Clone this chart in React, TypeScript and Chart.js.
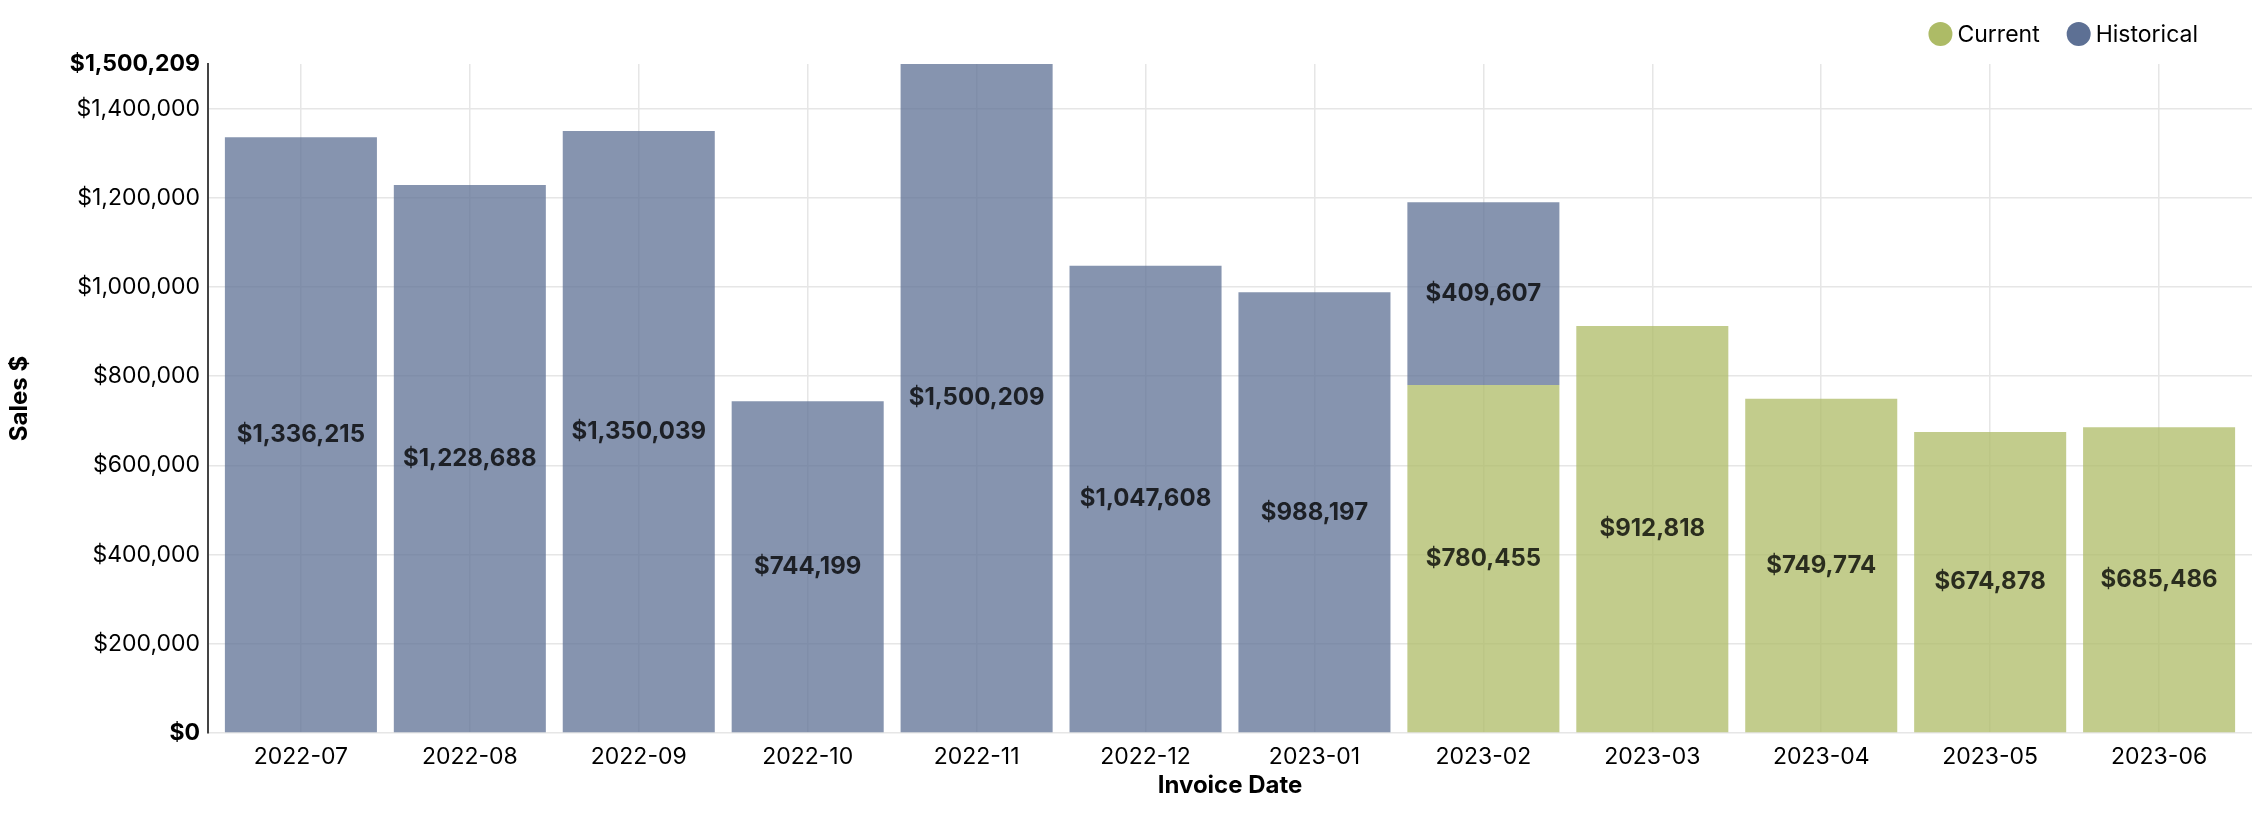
import React, { useEffect, useRef } from 'react';
import { Chart, registerables } from 'chart.js';

Chart.register(...registerables);

const categories = [
  '2022-07', '2022-08', '2022-09', '2022-10', '2022-11', '2022-12',
  '2023-01', '2023-02', '2023-03', '2023-04', '2023-05', '2023-06',
];
const currentSales = [null, null, null, null, null, null, null, 780455, 912818, 749774, 674878, 685486];
const historicalSales = [1336215, 1228688, 1350039, 744199, 1500209, 1047608, 988197, 409607, null, null, null, null];
const seriesNames = ['Current', 'Historical'];
const yTickValues = [0, 200000, 400000, 600000, 800000, 1000000, 1200000, 1400000, 1500209];
const yMax = 1500209;

const FONT = 'Inter';
const currentColor = '#adbb66';
const historicalColor = '#5d7094';
const currentFill = 'rgba(173,187,102,0.75)';
const historicalFill = 'rgba(93,112,148,0.75)';
const gridColor = '#e6e6e6';
const outerPad = 0.05;

const fmt = (v: number) => '$' + Math.round(v).toLocaleString('en-US');

const barLabelPlugin = {
  id: 'barLabels',
  afterDatasetsDraw(chart: any) {
    const ctx = chart.ctx;
    ctx.save();
    ctx.font = `bold 24px ${FONT}`;
    ctx.fillStyle = 'rgba(0,0,0,0.78)';
    ctx.textAlign = 'center';
    ctx.textBaseline = 'middle';
    chart.data.datasets.forEach((ds: any, i: number) => {
      const meta = chart.getDatasetMeta(i);
      meta.data.forEach((el: any, j: number) => {
        const v = ds.data[j];
        if (v == null) return;
        const p = el.getProps(['x', 'y', 'base'], true);
        ctx.fillText(fmt(v), p.x, (p.y + p.base) / 2);
      });
    });
    ctx.restore();
  },
};

const legendPlugin = {
  id: 'customLegend',
  afterDraw(chart: any) {
    const ctx = chart.ctx;
    ctx.save();
    ctx.font = `23px ${FONT}`;
    ctx.textBaseline = 'middle';
    ctx.textAlign = 'left';
    const cy = 26;
    const r = 12;
    let xEnd = chart.width - 54;
    const items = chart.data.datasets.map((d: any) => ({ label: d.label, color: d.legendColor }));
    for (let i = items.length - 1; i >= 0; i--) {
      const it = items[i];
      const w = ctx.measureText(it.label).width;
      const textX = xEnd - w;
      const cx = textX - 5 - r;
      ctx.fillStyle = it.color;
      ctx.beginPath();
      ctx.arc(cx, cy, r, 0, Math.PI * 2);
      ctx.fill();
      ctx.fillStyle = '#000';
      ctx.fillText(it.label, textX, cy + 1);
      xEnd = cx - r - 27;
    }
    ctx.restore();
  },
};

export default function App() {
  const ref = useRef<HTMLCanvasElement | null>(null);

  useEffect(() => {
    if (!ref.current) return;
    const chart = new Chart(ref.current, {
      type: 'bar',
      data: {
        labels: categories,
        datasets: [
          {
            label: seriesNames[0],
            data: currentSales,
            backgroundColor: currentFill,
            legendColor: currentColor,
            categoryPercentage: 1,
            barPercentage: 0.9,
          } as any,
          {
            label: seriesNames[1],
            data: historicalSales,
            backgroundColor: historicalFill,
            legendColor: historicalColor,
            categoryPercentage: 1,
            barPercentage: 0.9,
          } as any,
        ],
      },
      options: {
        responsive: false,
        animation: false,
        layout: { padding: { top: 56, left: 0, right: 0, bottom: 0 } },
        plugins: {
          legend: { display: false },
          tooltip: { enabled: false },
        },
        scales: {
          x: {
            stacked: true,
            offset: true,
            afterBuildTicks: (scale: any) => {
              scale._startValue = -0.5 - outerPad;
              scale._valueRange = categories.length + 2 * outerPad;
            },
            afterFit: (scale: any) => {
              scale.height = 87;
            },
            grid: { offset: false, color: gridColor, lineWidth: 1.5, drawTicks: false },
            border: { display: false },
            ticks: {
              color: '#000',
              padding: 10,
              maxRotation: 0,
              autoSkip: false,
              font: { family: FONT, size: 23 },
            },
            title: {
              display: true,
              text: 'Invoice Date',
              color: '#000',
              font: { family: FONT, size: 24, weight: 'bold', lineHeight: 1 },
              padding: { top: 0, bottom: 22 },
            },
          },
          y: {
            stacked: true,
            min: 0,
            max: yMax,
            afterBuildTicks: (scale: any) => {
              scale.ticks = yTickValues.map((v) => ({ value: v }));
            },
            afterFit: (scale: any) => {
              scale.width = 200;
            },
            grid: {
              color: (c: any) => (c.tick && c.tick.value === yMax ? 'rgba(0,0,0,0)' : gridColor),
              lineWidth: 1.5,
              drawTicks: false,
            },
            border: { display: true, color: '#444', width: 2 },
            ticks: {
              color: '#000',
              padding: 8,
              callback: (v: any) => fmt(Number(v)),
              font: (c: any) => ({
                family: FONT,
                size: 23,
                weight: c.tick && (c.tick.value === 0 || c.tick.value === yMax) ? 'bold' : 'normal',
              }),
            },
            title: {
              display: true,
              text: 'Sales $',
              color: '#000',
              font: { family: FONT, size: 24, weight: 'bold', lineHeight: 1 },
              padding: { top: 0, bottom: 0 },
            },
          },
        },
      } as any,
      plugins: [barLabelPlugin, legendPlugin],
    });
    return () => chart.destroy();
  }, []);

  return (
    <canvas
      ref={ref}
      width={2244}
      height={812}
      style={{ display: 'block', width: '2244px', height: '812px' }}
    />
  );
}
